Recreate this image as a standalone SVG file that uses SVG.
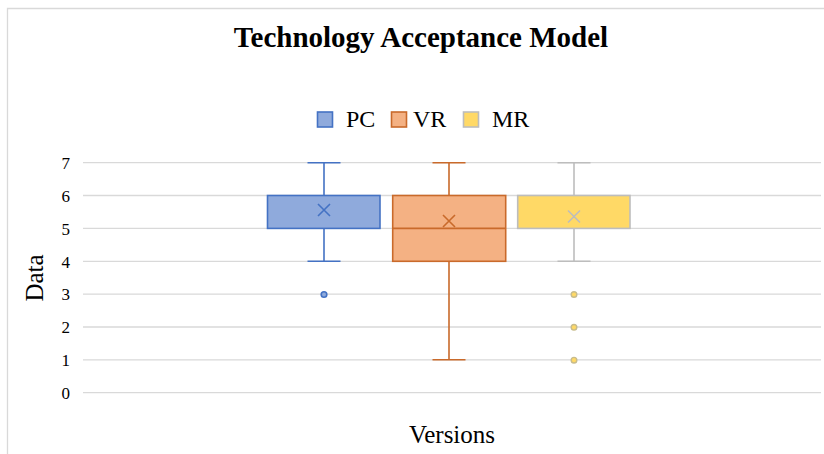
<svg xmlns="http://www.w3.org/2000/svg" width="824" height="454" viewBox="0 0 824 454">
<style>
.t{font-family:"Liberation Serif","Times New Roman",serif;fill:#000}
.grid{stroke:#D9D9D9;stroke-width:1.3}
.pc{fill:#8FAADC;stroke:#4472C4;stroke-width:1.6}
.pcl{stroke:#4472C4;stroke-width:1.6;fill:none}
.vr{fill:#F4B183;stroke:#C96A2B;stroke-width:1.6}
.vrl{stroke:#C96A2B;stroke-width:1.6;fill:none}
.mr{fill:#FFD966;stroke:#BDBDBD;stroke-width:1.6}
.mrl{stroke:#BDBDBD;stroke-width:1.6;fill:none}
.mrd{fill:#FFD966;stroke:#C8BC8C;stroke-width:1.4}
</style>
<rect width="824" height="454" fill="#fff"/>
<path d="M7.5 454V8.5H824" fill="none" stroke="#D9D9D9" stroke-width="1.3"/>
<text class="t" x="421" y="47" font-size="29" font-weight="bold" text-anchor="middle">Technology Acceptance Model</text>
<g id="legend">
<rect class="pc" x="317.5" y="112" width="15" height="15"/>
<text class="t" x="346" y="127" font-size="24">PC</text>
<rect class="vr" x="391.5" y="112" width="15" height="15"/>
<text class="t" x="413" y="127" font-size="24">VR</text>
<rect class="mr" x="463.5" y="112" width="15" height="15"/>
<text class="t" x="492" y="127" font-size="24">MR</text>
</g>
<g id="grid">
<line class="grid" x1="83" y1="162.7" x2="821" y2="162.7"/>
<line class="grid" x1="83" y1="195.5" x2="821" y2="195.5"/>
<line class="grid" x1="83" y1="228.4" x2="821" y2="228.4"/>
<line class="grid" x1="83" y1="261.3" x2="821" y2="261.3"/>
<line class="grid" x1="83" y1="294.1" x2="821" y2="294.1"/>
<line class="grid" x1="83" y1="327" x2="821" y2="327"/>
<line class="grid" x1="83" y1="359.8" x2="821" y2="359.8"/>
<line class="grid" x1="83" y1="392.7" x2="821" y2="392.7"/>
</g>
<g id="yaxis" class="t" font-size="17" text-anchor="end">
<text x="70" y="168.5">7</text>
<text x="70" y="201.5">6</text>
<text x="70" y="234.5">5</text>
<text x="70" y="267.5">4</text>
<text x="70" y="300">3</text>
<text x="70" y="333">2</text>
<text x="70" y="366">1</text>
<text x="70" y="399">0</text>
</g>
<text class="t" font-size="25" text-anchor="middle" transform="translate(43 278) rotate(-90)">Data</text>
<text class="t" x="452" y="443" font-size="25" text-anchor="middle">Versions</text>
<g id="PC">
<path class="pcl" d="M324 162.7V195.5M324 228.4V261.3M307.5 162.7H340.5M307.5 261.3H340.5"/>
<rect class="pc" x="267.5" y="195.5" width="112.5" height="32.9"/>
<path class="pcl" d="M318 204L330 216M330 204L318 216"/>
<circle cx="324" cy="294.5" r="2.8" fill="#8FAADC" stroke="#4472C4" stroke-width="1.6"/>
</g>
<g id="VR">
<path class="vrl" d="M449 162.7V195.5M449 261.3V359.8M432.5 162.7H465.5M432.5 359.8H465.5"/>
<rect class="vr" x="392.7" y="195.5" width="113" height="65.8"/>
<path class="vrl" d="M392.7 228.4H505.7"/>
<path class="vrl" d="M443 215L455 227M455 215L443 227"/>
</g>
<g id="MR">
<path class="mrl" d="M574 162.7V195.5M574 228.4V261.3M557.5 162.7H590.5M557.5 261.3H590.5"/>
<rect class="mr" x="517.7" y="195.5" width="112.3" height="32.9"/>
<path class="mrl" d="M568 210.5L580 222.5M580 210.5L568 222.5"/>
<circle class="mrd" cx="574" cy="294.5" r="2.8"/>
<circle class="mrd" cx="574" cy="327.3" r="2.8"/>
<circle class="mrd" cx="574" cy="360.2" r="2.8"/>
</g>
</svg>
